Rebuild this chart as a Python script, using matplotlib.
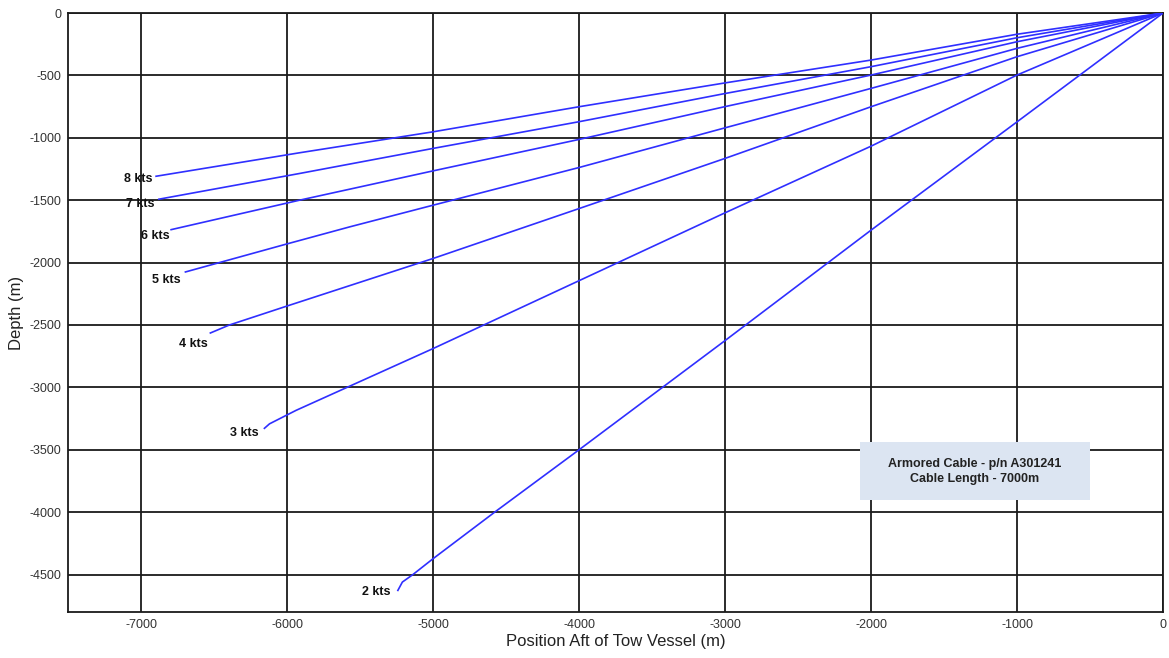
import numpy as np
import matplotlib
matplotlib.use("Agg")
import matplotlib.pyplot as plt
from matplotlib.patches import Rectangle

plt.rcParams['font.family'] = ['Liberation Sans', 'DejaVu Sans']
plt.rcParams['axes.unicode_minus'] = False

# cable shapes: (position aft, depth) for each tow speed
speeds = ['8 kts', '7 kts', '6 kts', '5 kts', '4 kts', '3 kts', '2 kts']
x_8 = [0, -1000, -2000, -3000, -4000, -5000, -5915, -6897]
y_8 = [0, -170, -377, -560, -751, -952, -1120, -1308]
x_7 = [0, -1000, -2000, -3000, -4000, -5000, -5915, -6878]
y_7 = [0, -198, -430, -645, -871, -1085, -1286, -1492]
x_6 = [0, -1000, -2000, -3000, -4000, -5000, -5915, -6794]
y_6 = [0, -230, -497, -750, -1013, -1265, -1500, -1736]
x_5 = [0, -1000, -2000, -3000, -4000, -5000, -5572, -6006, -6696]
y_5 = [0, -283, -604, -920, -1238, -1540, -1714, -1852, -2075]
x_4 = [0, -1000, -2000, -3000, -4000, -5000, -6000, -6395, -6525]
y_4 = [0, -350, -751, -1165, -1567, -1967, -2348, -2500, -2564]
x_3 = [0, -1000, -2000, -3000, -4000, -5000, -5938, -6120, -6155]
y_3 = [0, -497, -1067, -1601, -2145, -2689, -3184, -3292, -3328]
x_2 = [0, -1000, -2000, -3000, -4000, -4578, -5000, -5138, -5210, -5241]
y_2 = [0, -872, -1740, -2625, -3500, -4000, -4373, -4500, -4560, -4627]
xs = [x_8, x_7, x_6, x_5, x_4, x_3, x_2]
ys = [y_8, y_7, y_6, y_5, y_4, y_3, y_2]

# label offsets from the cable end, in pixels
label_off = [(-4, -3), (-4, -5), (-1, -6), (-5, -8), (-3, -11), (-6, -5), (-7, -2)]

x_ticks = [-7000, -6000, -5000, -4000, -3000, -2000, -1000, 0]
y_ticks = [0, -500, -1000, -1500, -2000, -2500, -3000, -3500, -4000, -4500]

fig = plt.figure(figsize=(11.69, 6.58), dpi=100)
ax = fig.add_axes([0.0582, 0.0699, 0.9367, 0.9103])

for name, x, y, off in zip(speeds, xs, ys, label_off):
    ax.plot(x, y, color='#2f2fff', lw=1.2, zorder=3)
    ax.annotate(name, (x[-1], y[-1]), xytext=off, textcoords='offset pixels',
                ha='right', va='center', fontsize=9, fontweight='bold', color='#111111')

ax.set_xlim(-7500, 0)
ax.set_ylim(-4800, 0)
ax.set_xticks(x_ticks)
ax.set_yticks(y_ticks)
ax.tick_params(length=0, labelsize=9, labelcolor='#333333', pad=5)
ax.grid(True, color='#1a1a1a', lw=1.3)
ax.set_axisbelow(True)
for s in ax.spines.values():
    s.set_color('#1a1a1a')
    s.set_linewidth(1.3)

ax.set_xlabel('Position Aft of Tow Vessel (m)', fontsize=12, color='#222222', labelpad=2)
ax.set_ylabel('Depth (m)', fontsize=12, color='#222222', labelpad=4)

ax.add_patch(Rectangle((-2077, -3905), 1577, 465, facecolor='#dce5f2', edgecolor='none', zorder=4))
ax.text(-1289, -3672, 'Armored Cable - p/n A301241\nCable Length - 7000m', ha='center', va='center',
        fontsize=9, fontweight='bold', color='#222222', zorder=5, linespacing=1.3)

plt.savefig('out.png', dpi=100)
